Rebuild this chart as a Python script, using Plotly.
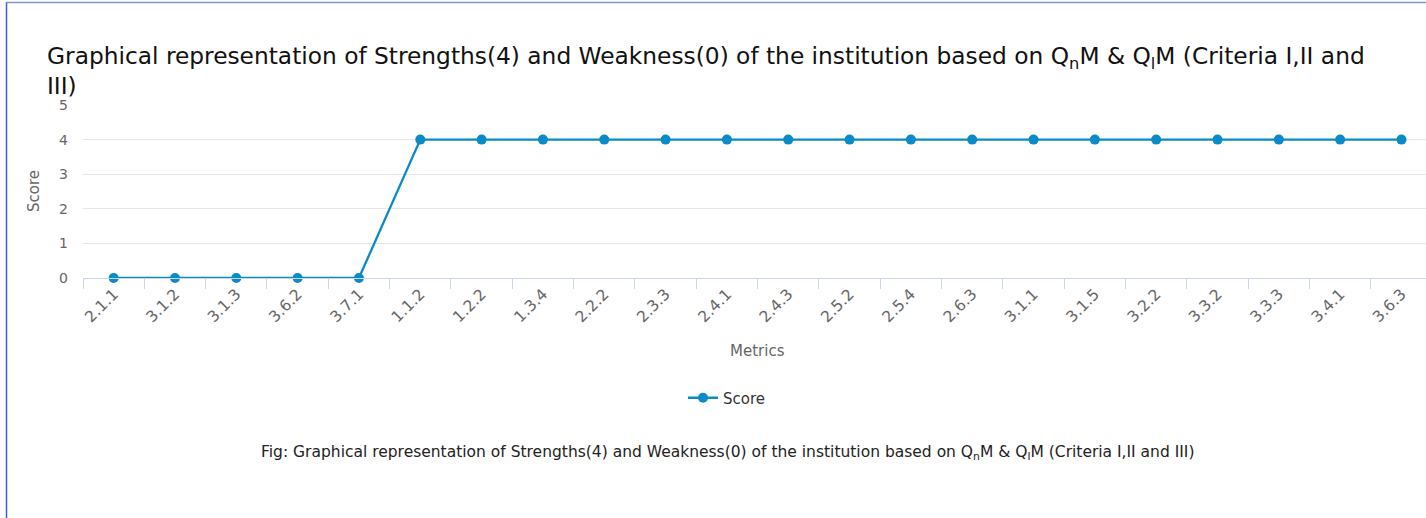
import plotly.graph_objects as go

metrics = ["2.1.1", "3.1.2", "3.1.3", "3.6.2", "3.7.1", "1.1.2", "1.2.2", "1.3.4",
           "2.2.2", "2.3.3", "2.4.1", "2.4.3", "2.5.2", "2.5.4", "2.6.3", "3.1.1",
           "3.1.5", "3.2.2", "3.3.2", "3.3.3", "3.4.1", "3.6.3"]
scores = [0, 0, 0, 0, 0, 4, 4, 4, 4, 4, 4, 4, 4, 4, 4, 4, 4, 4, 4, 4, 4, 4]
y_ticks = [0, 1, 2, 3, 4, 5]

W, H = 1426, 518
L, T, B = 83, 105, 278  # plot area in px
R = W

def px_x(px):
    return (px - L) / (R - L)

def px_y(py):
    return (B - py) / (B - T)

FONT = "DejaVu Sans"
LINE = "#0a8bc8"

title_text = ("Graphical representation of Strengths(4) and Weakness(0) of the institution "
              "based on Q<sub>n</sub>M &amp; Q<sub>l</sub>M (Criteria I,II and<br>III)")
caption = ("Fig: Graphical representation of Strengths(4) and Weakness(0) of the institution "
           "based on Q<sub>n</sub>M &amp; Q<sub>l</sub>M (Criteria I,II and III)")

fig = go.Figure()
fig.add_trace(go.Scatter(
    x=metrics, y=scores, mode="lines+markers", name="Score",
    line=dict(color=LINE, width=2.3),
    marker=dict(color=LINE, size=10),
    cliponaxis=False,
))

fig.update_layout(
    width=W, height=H,
    margin=dict(l=L, r=0, t=T, b=H - B, pad=0),
    paper_bgcolor="white", plot_bgcolor="white",
    font=dict(family=FONT, color="#666666", size=14),
    title=dict(text=title_text, xref="container", yref="container",
               x=47 / W, xanchor="left", y=1 - 64 / H, yanchor="top",
               font=dict(family=FONT, size=23.3, color="#111111")),
    showlegend=True,
    legend=dict(orientation="h", xref="container", yref="container",
                x=727 / W, xanchor="center", y=1 - 398 / H, yanchor="middle",
                font=dict(size=15, color="#333333")),
    xaxis=dict(type="category", range=[-0.5, 21.4], tickangle=-45,
               tickson="boundaries", ticks="outside", ticklen=10, tickcolor="#ccd6eb",
               showline=True, linecolor="#ccd6eb", linewidth=1, showgrid=False,
               tickfont=dict(size=15.5, color="#666666"), zeroline=False),
    yaxis=dict(range=[0, 5], tickvals=y_ticks, showgrid=True, gridcolor="#e6e6e6",
               zeroline=False, showline=False, ticks="", ticklabelstandoff=14,
               tickfont=dict(size=14, color="#666666")),
    annotations=[
        dict(text="Metrics", xref="paper", yref="paper", x=px_x(758), y=px_y(351),
             showarrow=False, font=dict(size=15, color="#666666"),
             xanchor="center", yanchor="middle"),
        dict(text="Score", xref="paper", yref="paper", x=px_x(34), y=px_y(191),
             showarrow=False, textangle=-90, font=dict(size=15, color="#666666"),
             xanchor="center", yanchor="middle"),
        dict(text=caption, xref="paper", yref="paper", x=px_x(727), y=px_y(453),
             showarrow=False, font=dict(size=15.5, color="#222222"),
             xanchor="center", yanchor="middle"),
    ],
    shapes=[
        dict(type="line", xref="paper", yref="paper", x0=px_x(6.5), x1=px_x(6.5),
             y0=px_y(2), y1=px_y(H + 2), line=dict(color="#3a62c6", width=1.5)),
        dict(type="line", xref="paper", yref="paper", x0=px_x(6), x1=1.01,
             y0=px_y(2.5), y1=px_y(2.5), line=dict(color="#7d95c9", width=1.5)),
    ],
)

fig.write_html(
    "out.html",
    config={"displayModeBar": False},
    post_script="document.body.style.margin='0';document.body.style.overflow='hidden';",
)
